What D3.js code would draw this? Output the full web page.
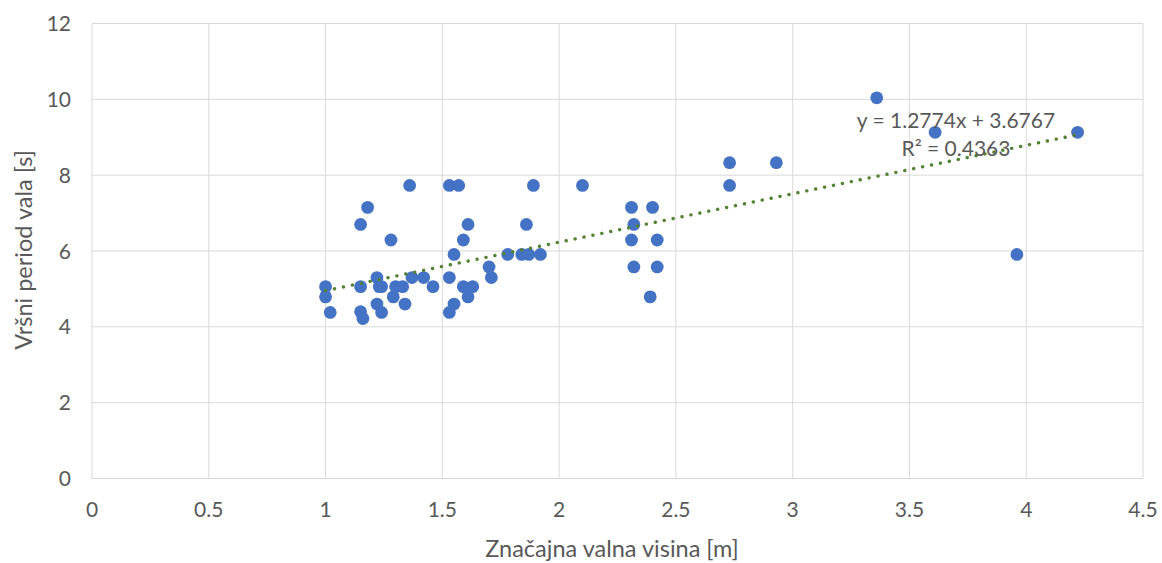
<!DOCTYPE html>
<html>
<head>
<meta charset="utf-8">
<script src="https://cdn.jsdelivr.net/npm/d3@7"></script>
<style>
body{margin:0;background:#fff;}
text{font-family:Lato, "Liberation Sans", sans-serif;fill:#595959;}
</style>
</head>
<body>
<script>
// znacajna valna visina Hs [m]
var hs = [1.00,1.00,1.02,1.15,1.18,1.15,1.15,1.16,1.22,1.23,1.24,1.22,1.24,1.28,1.29,1.30,1.33,1.34,1.36,1.37,
	1.42,1.46,1.53,1.53,1.55,1.53,1.57,1.55,1.59,1.61,1.59,1.63,1.61,1.70,1.71,1.78,1.84,1.87,1.92,1.86,
	1.89,2.10,2.31,2.40,2.32,2.31,2.42,2.32,2.42,2.39,2.73,2.73,2.93,3.36,3.61,3.96,4.22]
// vrsni period Tp [s]
var tp = [5.06,4.79,4.38,6.70,7.15,5.06,4.40,4.22,5.30,5.06,5.06,4.60,4.38,6.29,4.79,5.06,5.06,4.60,7.73,5.30,
	5.30,5.06,5.30,4.38,4.60,7.73,7.73,5.91,6.29,6.70,5.06,5.06,4.79,5.58,5.30,5.91,5.91,5.91,5.91,6.70,
	7.73,7.73,7.15,7.15,6.70,6.29,6.29,5.58,5.58,4.79,8.33,7.73,8.33,10.04,9.13,5.91,9.13]
var xTicks = [0,0.5,1,1.5,2,2.5,3,3.5,4,4.5]
var yTicks = [0,2,4,6,8,10,12]
var trendSlope = 1.2774
var trendIntercept = 3.6767
var trendLabel = "y = 1.2774x + 3.6767"
var r2Label = "R² = 0.4363"

var w = 1162;
var h = 563;
// "top" je rezervirano (window.top), zato plotTop itd.
var plotLeft = 92, plotRight = 1143, plotTop = 23.5, plotBottom = 478.5;

var svg = d3.select("body")
	.append("svg")
	.attr("width", w)
	.attr("height", h);

var x = d3.scaleLinear().domain([0,4.5]).range([plotLeft,plotRight]);
var y = d3.scaleLinear().domain([0,12]).range([plotBottom,plotTop]);

// grid
svg.append("g").selectAll("line")
	.data(yTicks)
	.enter()
	.append("line")
	.attr("x1", plotLeft).attr("x2", plotRight)
	.attr("y1", function(d){return y(d)}).attr("y2", function(d){return y(d)})
	.attr("stroke", "#d9d9d9").attr("stroke-width", 1);
svg.append("g").selectAll("line")
	.data(xTicks)
	.enter()
	.append("line")
	.attr("y1", plotTop).attr("y2", plotBottom)
	.attr("x1", function(d){return x(d)}).attr("x2", function(d){return x(d)})
	.attr("stroke", "#d9d9d9").attr("stroke-width", 1);

// tick labels
svg.append("g").selectAll("text")
	.data(yTicks)
	.enter()
	.append("text")
	.attr("x", 71)
	.attr("y", function(d){return y(d)+7.5})
	.attr("text-anchor", "end")
	.style("font-size", "21px")
	.text(function(d){return d});
svg.append("g").selectAll("text")
	.data(xTicks)
	.enter()
	.append("text")
	.attr("x", function(d){return x(d)})
	.attr("y", 517)
	.attr("text-anchor", "middle")
	.style("font-size", "21px")
	.text(function(d){return d});

// axis titles
svg.append("text")
	.attr("x", 612).attr("y", 557)
	.attr("text-anchor", "middle")
	.style("font-size", "23.5px")
	.text("Značajna valna visina [m]");
svg.append("text")
	.attr("transform", "translate(32,250) rotate(-90)")
	.attr("text-anchor", "middle")
	.style("font-size", "23.5px")
	.text("Vršni period vala [s]");

// points
var pts = hs.map(function(d,i){return [d, tp[i]]});
svg.append("g").selectAll("circle")
	.data(pts)
	.enter()
	.append("circle")
	.attr("cx", function(d){return x(d[0])})
	.attr("cy", function(d){return y(d[1])})
	.attr("r", 6.4)
	.attr("fill", "#4472c4");

// linear trend
var xMin = d3.min(hs), xMax = d3.max(hs);
svg.append("line")
	.attr("x1", x(xMin)).attr("y1", y(trendSlope*xMin+trendIntercept))
	.attr("x2", x(xMax)).attr("y2", y(trendSlope*xMax+trendIntercept))
	.attr("stroke", "#548235")
	.attr("stroke-width", 3.4)
	.attr("stroke-linecap", "round")
	.attr("stroke-dasharray", "0.1 9");

svg.append("text")
	.attr("x", 956).attr("y", 128)
	.attr("text-anchor", "middle")
	.style("font-size", "21px")
	.text(trendLabel);
svg.append("text")
	.attr("x", 956).attr("y", 156)
	.attr("text-anchor", "middle")
	.style("font-size", "21px")
	.text(r2Label);
</script>
</body>
</html>
